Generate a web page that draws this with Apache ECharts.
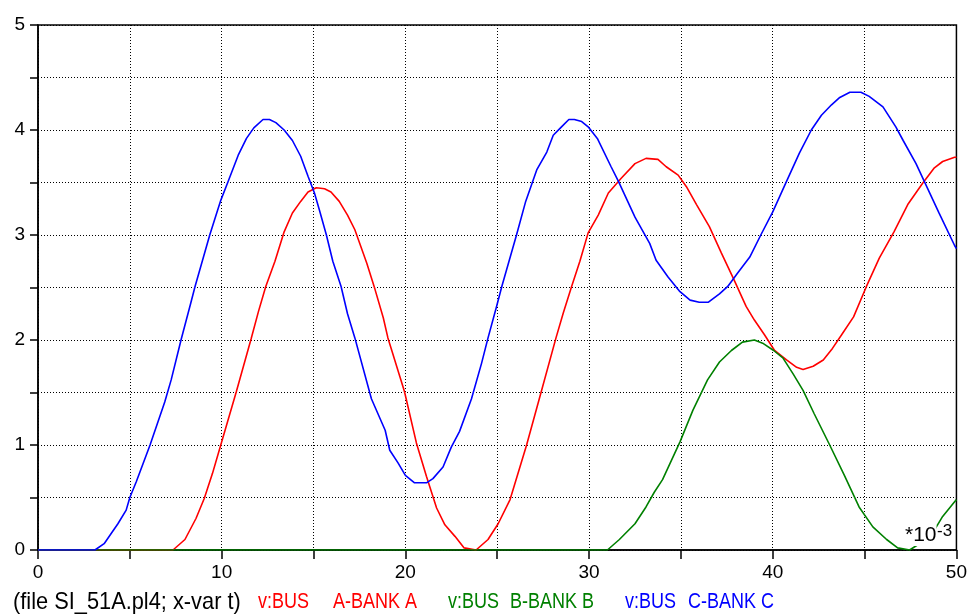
<!DOCTYPE html>
<html>
<head>
<meta charset="utf-8">
<script src="https://cdn.jsdelivr.net/npm/echarts@6/dist/echarts.min.js"></script>
<style>
  html, body { margin: 0; padding: 0; background: #fff; }
  #chart { width: 970px; height: 615px; }
</style>
</head>
<body>
<div id="chart"></div>
<script>
// Time axis in ms (values scaled by 10^-3), voltages in per-unit
const seriesNames = ['v:BUS  A-BANK A', 'v:BUS  B-BANK B', 'v:BUS  C-BANK C'];
const seriesColors = ['#ff0000', '#008000', '#0000ff'];

const tA = [0, 7.35, 8.0, 8.6, 9.05, 9.5, 9.95, 10.8, 11.6, 12.0, 12.4, 12.9, 13.4, 13.85, 14.3, 14.7, 15.15, 15.6, 15.95, 16.4, 16.85, 17.25, 17.9, 18.35, 18.8, 19.05, 19.95, 20.6, 21.15, 21.7, 22.15, 22.7, 23.2, 23.85, 24.5, 25.05, 25.7, 26.6, 27.4, 28.2, 28.6, 29.05, 29.5, 29.95, 30.5, 31.05, 31.75, 32.5, 33.1, 33.75, 34.2, 34.85, 35.3, 35.85, 36.55, 37.2, 37.9, 38.55, 39.0, 39.55, 40.1, 40.75, 41.3, 41.65, 42.2, 42.75, 43.25, 43.75, 44.4, 45.1, 45.8, 46.6, 47.35, 48.15, 48.8, 49.25, 49.9, 50];
const vA = [0, 0, 0.1, 0.3, 0.49, 0.73, 1.0, 1.51, 2.01, 2.27, 2.51, 2.75, 3.03, 3.21, 3.32, 3.41, 3.45, 3.44, 3.41, 3.32, 3.19, 3.05, 2.73, 2.48, 2.21, 2.02, 1.51, 1.02, 0.70, 0.40, 0.24, 0.13, 0.02, 0, 0.1, 0.25, 0.48, 1.0, 1.51, 2.02, 2.26, 2.51, 2.75, 3.02, 3.19, 3.40, 3.54, 3.68, 3.73, 3.72, 3.65, 3.57, 3.46, 3.29, 3.08, 2.83, 2.57, 2.32, 2.19, 2.05, 1.90, 1.81, 1.74, 1.72, 1.75, 1.81, 1.92, 2.05, 2.22, 2.51, 2.78, 3.03, 3.29, 3.49, 3.64, 3.70, 3.74, 3.74];

const tB = [0, 31.0, 31.65, 32.5, 33.1, 33.55, 34.0, 34.95, 35.65, 36.45, 37.1, 37.75, 38.35, 39.0, 39.45, 40.05, 40.55, 41.1, 41.65, 42.25, 43.1, 43.9, 44.7, 45.45, 46.2, 46.8, 47.45, 47.9, 48.8, 49.25, 49.9, 50];
const vB = [0, 0, 0.1, 0.25, 0.41, 0.55, 0.67, 1.03, 1.33, 1.62, 1.79, 1.90, 1.98, 2.0, 1.97, 1.90, 1.83, 1.68, 1.52, 1.30, 1.0, 0.71, 0.41, 0.22, 0.10, 0.02, 0, 0.05, 0.19, 0.32, 0.46, 0.48];

const tC = [0, 3.1, 3.6, 4.35, 4.8, 5.0, 5.35, 6.1, 6.9, 7.25, 7.8, 8.3, 8.55, 9.35, 9.95, 10.35, 10.9, 11.35, 11.75, 12.25, 12.6, 12.95, 13.4, 13.85, 14.3, 14.7, 15.05, 15.3, 15.7, 16.05, 16.5, 16.85, 17.25, 18.15, 18.9, 19.15, 19.6, 20.0, 20.5, 21.15, 21.5, 22.05, 22.5, 22.95, 23.6, 24.15, 24.5, 24.95, 25.25, 26.05, 26.55, 27.15, 27.7, 28.05, 28.5, 28.9, 29.2, 29.6, 29.95, 30.45, 31.2, 31.6, 32.5, 33.3, 33.65, 34.3, 34.95, 35.5, 36.0, 36.5, 37.1, 37.55, 38.1, 38.75, 39.35, 40.0, 40.75, 41.45, 42.1, 42.65, 43.2, 43.65, 44.2, 44.8, 45.25, 46.0, 46.7, 47.1, 47.8, 48.25, 49.05, 49.9, 50];
const vC = [0, 0, 0.06, 0.25, 0.38, 0.5, 0.65, 1.0, 1.41, 1.62, 2.01, 2.34, 2.51, 3.0, 3.33, 3.51, 3.76, 3.92, 4.02, 4.10, 4.10, 4.07, 4.0, 3.9, 3.75, 3.56, 3.4, 3.25, 3.0, 2.75, 2.51, 2.25, 2.02, 1.44, 1.14, 0.95, 0.83, 0.71, 0.64, 0.64, 0.68, 0.79, 0.98, 1.13, 1.44, 1.78, 2.02, 2.31, 2.51, 3.0, 3.32, 3.62, 3.79, 3.95, 4.03, 4.10, 4.10, 4.08, 4.03, 3.92, 3.65, 3.51, 3.17, 2.92, 2.76, 2.60, 2.46, 2.38, 2.36, 2.36, 2.44, 2.51, 2.64, 2.79, 3.0, 3.22, 3.51, 3.78, 4.0, 4.14, 4.24, 4.31, 4.36, 4.36, 4.32, 4.22, 4.03, 3.90, 3.68, 3.51, 3.21, 2.90, 2.87];

const xTicks = [0, 10, 20, 30, 40, 50];
const yTicks = [0, 1, 2, 3, 4, 5];
const fileCaption = '(file SI_51A.pl4; x-var t)';
const scaleCaption = ['*10', '-3'];

const pair = (ts, vs) => ts.map((t, i) => [t, vs[i]]);
const FONT = 'Arial, "Liberation Sans", sans-serif';

const chart = echarts.init(document.getElementById('chart'), null, { renderer: 'canvas' });

const dotted = { color: '#000', width: 1, type: [1, 2] };

// caption row under the x axis: each legend entry is "signal" + "bus/bank"
const legendParts = [
  { x: 258, parts: seriesNames[0].split(/\s{2,}/), gap: 75 },
  { x: 448, parts: seriesNames[1].split(/\s{2,}/), gap: 62 },
  { x: 625, parts: seriesNames[2].split(/\s{2,}/), gap: 63 }
];

const captionText = (x, y, text, color, size, scaleX, scaleY) => ({
  type: 'text', x: x, y: y, originX: 0, originY: 0, scaleX: scaleX, scaleY: scaleY, z: 100,
  style: { text: text, fill: color, font: size + 'px ' + FONT, verticalAlign: 'middle', textVerticalAlign: 'middle' }
});

const graphics = [captionText(13, 602, fileCaption, '#000', 20, 1.09, 1.18)];
legendParts.forEach((lp, i) => {
  graphics.push(captionText(lp.x, 602, lp.parts[0], seriesColors[i], 18, 1, 1.18));
  graphics.push(captionText(lp.x + lp.gap, 602, lp.parts[1], seriesColors[i], 18, 1, 1.18));
});
// exponent note inside the plot, bottom right
graphics.push({ type: 'text', x: 905, y: 546, z: 100,
  style: { text: scaleCaption[0], fill: '#000', font: '21px ' + FONT, verticalAlign: 'bottom', textVerticalAlign: 'bottom',
           backgroundColor: '#fff' } });
graphics.push({ type: 'text', x: 937, y: 531, z: 100,
  style: { text: scaleCaption[1], fill: '#000', font: '17px ' + FONT, verticalAlign: 'middle', textVerticalAlign: 'middle' } });

chart.setOption({
  animation: false,
  backgroundColor: '#fff',
  grid: { left: 38, right: 13, top: 25, bottom: 65, show: true, borderColor: '#000', borderWidth: 1.5, backgroundColor: 'transparent' },
  xAxis: {
    type: 'value', min: 0, max: 50, interval: 5,
    axisLine: { show: true, onZero: false, lineStyle: { color: '#000', width: 1.5 } },
    axisTick: { show: true, length: 9, lineStyle: { color: '#000', width: 1.5 } },
    axisLabel: {
      margin: 13, color: '#000', fontFamily: FONT, fontSize: 19,
      formatter: v => (xTicks.indexOf(v) >= 0 ? String(v) : '')
    },
    splitLine: { show: true, lineStyle: dotted }
  },
  yAxis: {
    type: 'value', min: 0, max: 5, interval: 0.5,
    axisLine: { show: true, lineStyle: { color: '#000', width: 1.5 } },
    axisTick: { show: true, length: 8, lineStyle: { color: '#000', width: 1.5 } },
    axisLabel: {
      margin: 13, color: '#000', fontFamily: FONT, fontSize: 19, padding: [0, 0, 12, 0],
      formatter: v => (yTicks.indexOf(v) >= 0 ? String(v) : '')
    },
    splitLine: { show: true, lineStyle: dotted }
  },
  series: [
    { name: seriesNames[0], type: 'line', data: pair(tA, vA), showSymbol: false, lineStyle: { color: seriesColors[0], width: 1.6 }, itemStyle: { color: seriesColors[0] }, z: 2 },
    { name: seriesNames[1], type: 'line', data: pair(tB, vB), showSymbol: false, lineStyle: { color: seriesColors[1], width: 1.6 }, itemStyle: { color: seriesColors[1] }, z: 3 },
    { name: seriesNames[2], type: 'line', data: pair(tC, vC), showSymbol: false, lineStyle: { color: seriesColors[2], width: 1.6 }, itemStyle: { color: seriesColors[2] }, z: 4 }
  ],
  graphic: graphics
});
</script>
</body>
</html>
